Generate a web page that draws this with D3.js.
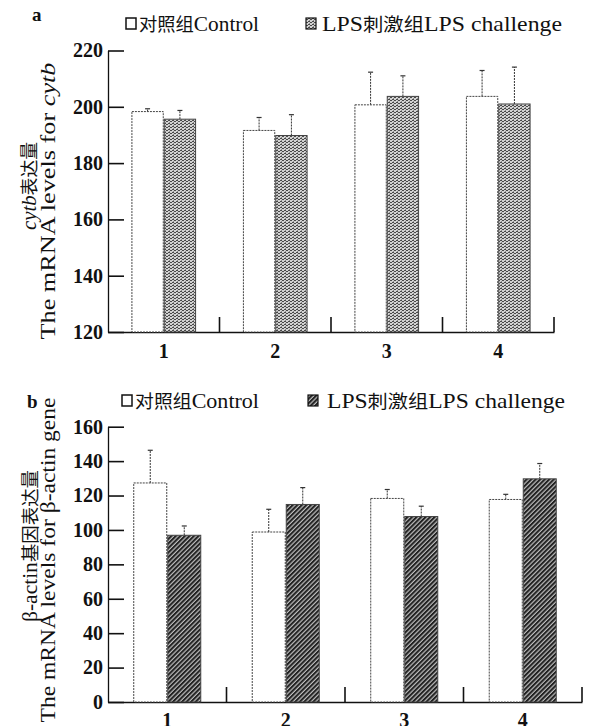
<!DOCTYPE html>
<html>
<head>
<meta charset="utf-8">
<script src="https://cdn.jsdelivr.net/npm/d3@7"></script>
<style>
  html, body { margin: 0; padding: 0; background: #fff; }
  svg { display: block; }
  text { font-family: "Liberation Serif", "Noto Sans CJK SC", serif; fill: #111; }
  .cjk { font-family: "Noto Sans CJK SC", sans-serif; }
</style>
</head>
<body>
<svg id="chart" width="592" height="726"></svg>
<script>
// ---------- data ----------
const categories = ["1", "2", "3", "4"];
const seriesNames = ["对照组Control", "LPS刺激组LPS challenge"];

const cytbControl    = [198.3, 191.6, 200.7, 203.7];
const cytbControlErr = [1.0, 4.6, 11.6, 9.2];
const cytbLPS        = [195.6, 189.8, 203.7, 201.0];
const cytbLPSErr     = [3.1, 7.4, 7.3, 13.1];
const cytbTicks      = [120, 140, 160, 180, 200, 220];

const actinControl    = [127.3, 98.8, 118.3, 117.7];
const actinControlErr = [19.0, 13.2, 5.2, 3.0];
const actinLPS        = [96.9, 114.8, 107.8, 129.7];
const actinLPSErr     = [5.4, 9.8, 6.0, 8.9];
const actinTicks      = [0, 20, 40, 60, 80, 100, 120, 140, 160];

// ---------- svg / patterns ----------
const svg = d3.select("#chart");
const defs = svg.append("defs");

const pa = defs.append("pattern").attr("id", "stipple")
  .attr("patternUnits", "userSpaceOnUse").attr("width", 4).attr("height", 3);
pa.append("rect").attr("width", 4).attr("height", 3).attr("fill", "#d2d2d2");
pa.append("rect").attr("x", 0).attr("y", 0).attr("width", 2).attr("height", 1).attr("fill", "#4a4a4a");
pa.append("rect").attr("x", 2).attr("y", 1).attr("width", 2).attr("height", 1).attr("fill", "#4a4a4a");
pa.append("rect").attr("x", 1).attr("y", 2).attr("width", 1).attr("height", 1).attr("fill", "#8a8a8a");

const pb = defs.append("pattern").attr("id", "hatch")
  .attr("patternUnits", "userSpaceOnUse").attr("width", 3.2).attr("height", 3.2)
  .attr("patternTransform", "rotate(45)");
pb.append("rect").attr("width", 3.2).attr("height", 3.2).attr("fill", "#bdbdbd");
pb.append("rect").attr("x", 0).attr("y", 0).attr("width", 2).attr("height", 3.2).attr("fill", "#222");

// ---------- panel builder ----------
function panel(cfg) {
  const g = svg.append("g");
  const x0 = d3.scaleBand().domain(categories)
    .range([cfg.left, cfg.right]).paddingInner(cfg.pad).paddingOuter(cfg.pad / 2);
  const x1 = d3.scaleBand().domain([0, 1]).range([0, x0.bandwidth()]);
  const y = d3.scaleLinear().domain(cfg.domain).range([cfg.bottom, cfg.top]);

  // y axis (inward ticks)
  const yAxis = d3.axisLeft(y).tickValues(cfg.ticks).tickSize(-16).tickSizeOuter(0).tickPadding(5);
  const ya = g.append("g").attr("transform", `translate(${cfg.left},0)`).call(yAxis);
  ya.select(".domain").attr("stroke", "#111").attr("stroke-width", 1.3);
  ya.selectAll(".tick line").attr("stroke", "#111").attr("stroke-width", 1.6);
  ya.selectAll(".tick text").attr("font-size", 20).attr("fill", "#111")
    .attr("font-family", "Liberation Serif").attr("font-weight", "bold");

  // x axis baseline + separator ticks
  const xAxis = d3.axisBottom(x0).tickSize(0).tickPadding(cfg.labelPad).tickSizeOuter(0);
  const xa = g.append("g").attr("transform", `translate(0,${cfg.bottom})`).call(xAxis);
  xa.select(".domain").attr("stroke", "#111").attr("stroke-width", 1.3);
  xa.selectAll(".tick text").attr("font-size", 20).attr("fill", "#111")
    .attr("font-family", "Liberation Serif").attr("font-weight", "bold");
  const bounds = categories.map(c => x0(c) + x0.bandwidth() + x0.step() * cfg.pad / 2);
  g.selectAll("line.sep").data(bounds).join("line").attr("class", "sep")
    .attr("x1", d => d).attr("x2", d => d)
    .attr("y1", cfg.bottom).attr("y2", cfg.bottom - 15)
    .attr("stroke", "#111").attr("stroke-width", 1.6);

  // bars
  const series = [
    { vals: cfg.ctrl, errs: cfg.ctrlErr, fill: "#fff" },
    { vals: cfg.lps, errs: cfg.lpsErr, fill: `url(#${cfg.pattern})` }
  ];
  series.forEach((s, si) => {
    const sg = g.append("g");
    const rows = categories.map((c, i) => ({ c, v: s.vals[i], e: s.errs[i] }));
    sg.selectAll("line.err").data(rows).join("line").attr("class", "err")
      .attr("x1", d => x0(d.c) + x1(si) + x1.bandwidth() / 2)
      .attr("x2", d => x0(d.c) + x1(si) + x1.bandwidth() / 2)
      .attr("y1", d => y(d.v)).attr("y2", d => y(d.v + d.e))
      .attr("stroke", "#333").attr("stroke-width", 1).attr("stroke-dasharray", "2,1");
    sg.selectAll("line.cap").data(rows).join("line").attr("class", "cap")
      .attr("x1", d => x0(d.c) + x1(si) + x1.bandwidth() / 2 - 2.5)
      .attr("x2", d => x0(d.c) + x1(si) + x1.bandwidth() / 2 + 2.5)
      .attr("y1", d => y(d.v + d.e)).attr("y2", d => y(d.v + d.e))
      .attr("stroke", "#333").attr("stroke-width", 1.2);
    sg.selectAll("rect").data(rows).join("rect")
      .attr("x", d => x0(d.c) + x1(si) + 0.5)
      .attr("y", d => y(d.v))
      .attr("width", x1.bandwidth() - 1)
      .attr("height", d => cfg.bottom - y(d.v))
      .attr("fill", s.fill)
      .attr("stroke", "#444").attr("stroke-width", 1)
      .attr("stroke-dasharray", si === 0 ? "2,1" : null);
  });

  // panel letter
  g.append("text").attr("x", cfg.letterX).attr("y", cfg.letterY)
    .attr("font-size", 19).attr("font-weight", "bold").text(cfg.letter);

  // legend
  const lg = g.append("g");
  lg.append("rect").attr("x", cfg.legX[0]).attr("y", cfg.legY - 6).attr("width", 10).attr("height", 11)
    .attr("fill", "#fff").attr("stroke", "#111").attr("stroke-width", 1.5);
  const t1 = lg.append("text").attr("x", cfg.legX[0] + 13).attr("y", cfg.legY + 7).attr("font-size", 21)
    .attr("textLength", cfg.legLen[0]).attr("lengthAdjust", "spacingAndGlyphs");
  t1.append("tspan").attr("class", "cjk").attr("font-size", 18).text(seriesNames[0].slice(0, 3));
  t1.append("tspan").text(seriesNames[0].slice(3));
  lg.append("rect").attr("x", cfg.legX[1]).attr("y", cfg.legY - 6).attr("width", 10).attr("height", 11)
    .attr("fill", `url(#${cfg.pattern})`).attr("stroke", "#111").attr("stroke-width", 1.2);
  const t2 = lg.append("text").attr("x", cfg.legX[1] + cfg.legGap).attr("y", cfg.legY + 7).attr("font-size", 21)
    .attr("textLength", cfg.legLen[1]).attr("lengthAdjust", "spacingAndGlyphs");
  t2.append("tspan").text(seriesNames[1].slice(0, 3));
  t2.append("tspan").attr("class", "cjk").attr("font-size", 18).text(seriesNames[1].slice(3, 6));
  t2.append("tspan").text(seriesNames[1].slice(6));

  // y titles
  const yc = cfg.titleY;
  const l1 = g.append("text").attr("transform", `translate(${cfg.t1x},${yc[0]}) rotate(-90)`)
    .attr("text-anchor", "middle").attr("font-size", 21)
    .attr("textLength", cfg.tLen[0]).attr("lengthAdjust", "spacingAndGlyphs");
  cfg.title1.forEach(p => l1.append("tspan").attr("class", p.cjk ? "cjk" : null)
    .attr("font-size", p.cjk ? 18 : 21).attr("font-style", p.it ? "italic" : null).text(p.t));
  const l2 = g.append("text").attr("transform", `translate(${cfg.t2x},${yc[1]}) rotate(-90)`)
    .attr("text-anchor", "middle").attr("font-size", 22)
    .attr("textLength", cfg.tLen[1]).attr("lengthAdjust", "spacingAndGlyphs");
  cfg.title2.forEach(p => l2.append("tspan").attr("font-style", p.it ? "italic" : null).text(p.t));
}

panel({
  left: 108, right: 554, top: 50.5, bottom: 332, pad: 0.42, labelPad: 12,
  domain: [120, 220], ticks: cytbTicks,
  ctrl: cytbControl, ctrlErr: cytbControlErr, lps: cytbLPS, lpsErr: cytbLPSErr,
  pattern: "stipple", letter: "a", letterX: 32, letterY: 21,
  legX: [126, 306], legY: 24, legGap: 16, legLen: [120, 240],
  t1x: 36, t2x: 55, titleY: [186, 201], tLen: [88, 277],
  title1: [{ t: "cytb", it: true }, { t: "表达量", cjk: true }],
  title2: [{ t: "The mRNA levels for " }, { t: "cytb", it: true }]
});

panel({
  left: 108, right: 582, top: 426.7, bottom: 702, pad: 0.426, labelPad: 11,
  domain: [0, 160], ticks: actinTicks,
  ctrl: actinControl, ctrlErr: actinControlErr, lps: actinLPS, lpsErr: actinLPSErr,
  pattern: "hatch", letter: "b", letterX: 27, letterY: 408,
  legX: [122, 308], legY: 401, legGap: 19, legLen: [124, 238],
  t1x: 37, t2x: 55, titleY: [546, 560], tLen: [152, 325],
  title1: [{ t: "β-actin" }, { t: "基因表达量", cjk: true }],
  title2: [{ t: "The mRNA levels for β-actin gene" }]
});
</script>
</body>
</html>
